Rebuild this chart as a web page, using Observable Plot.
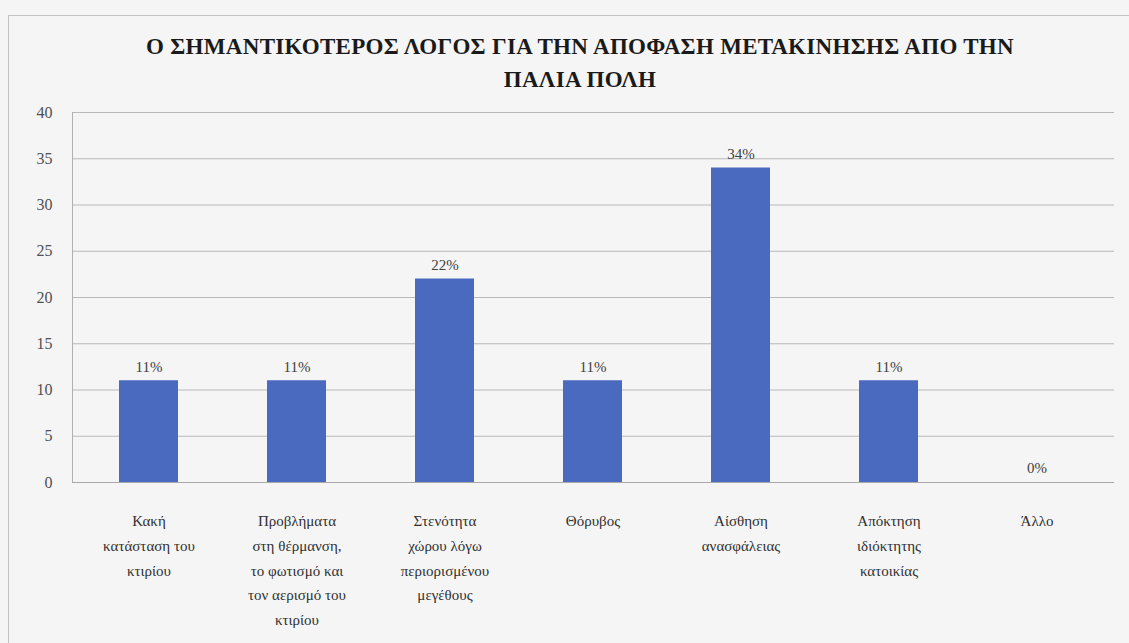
<!DOCTYPE html>
<html>
<head>
<meta charset="utf-8">
<script src="https://cdn.jsdelivr.net/npm/d3@7"></script>
<script src="https://cdn.jsdelivr.net/npm/@observablehq/plot@0.6"></script>
<style>
  html, body { margin: 0; padding: 0; background: #f5f5f5; }
  #wrap { position: relative; width: 1129px; height: 643px; overflow: hidden; background: #f5f5f5; }
  #frame { position: absolute; left: 8px; top: 15px; width: 1130px; height: 640px;
           border-left: 1px solid #c4c4c4; border-top: 1px solid #c4c4c4; }
  #title { position: absolute; left: 0; top: 30px; width: 1160px; text-align: center;
           font-family: "Liberation Serif", "DejaVu Serif", "Times New Roman", serif; font-weight: bold; font-size: 23px;
           line-height: 33px; color: #1a1a1a; letter-spacing: 0.3px; }
  #chart { position: absolute; left: 0; top: 100px; }
</style>
</head>
<body>
<div id="wrap">
  <div id="frame"></div>
  <div id="title">Ο ΣΗΜΑΝΤΙΚΟΤΕΡΟΣ ΛΟΓΟΣ ΓΙΑ ΤΗΝ ΑΠΟΦΑΣΗ ΜΕΤΑΚΙΝΗΣΗΣ ΑΠΟ ΤΗΝ<br>ΠΑΛΙΑ ΠΟΛΗ</div>
  <div id="chart"></div>
</div>
<script>
const categories = [
  "Κακή\nκατάσταση του\nκτιρίου",
  "Προβλήματα\nστη θέρμανση,\nτο φωτισμό και\nτον αερισμό του\nκτιρίου",
  "Στενότητα\nχώρου λόγω\nπεριορισμένου\nμεγέθους",
  "Θόρυβος",
  "Αίσθηση\nανασφάλειας",
  "Απόκτηση\nιδιόκτητης\nκατοικίας",
  "Άλλο"
];
const values = [11, 11, 22, 11, 34, 11, 0];
const valueLabels = ["11%", "11%", "22%", "11%", "34%", "11%", "0%"];
const yTicks = [0, 5, 10, 15, 20, 25, 30, 35, 40];

const data = categories.map((c, i) => ({category: c, value: values[i], label: valueLabels[i]}));

const serif = "'Liberation Serif', 'DejaVu Serif', 'Times New Roman', serif";

const chart = Plot.plot({
  width: 1129,
  height: 543,
  marginLeft: 72,
  marginRight: 15,
  marginTop: 12,
  marginBottom: 161,
  style: {background: "transparent", fontFamily: serif, fontSize: "15px", color: "#404040"},
  x: {domain: categories, paddingInner: 0.6, paddingOuter: 0.3, label: null},
  y: {domain: [0, 40], label: null},
  marks: [
    Plot.gridY(yTicks.filter(d => d > 0), {stroke: "#b9b9b9", strokeOpacity: 1}),
    Plot.axisY({ticks: yTicks, tickSize: 0, tickPadding: 20, fontSize: 16, label: null, fill: "#505050"}),
    Plot.frame({anchor: "left", stroke: "#b0b0b0"}),
    Plot.barY(data, {x: "category", y: "value", fill: "#4a6ac0"}),
    Plot.ruleY([0], {stroke: "#a8a8a8"}),
    Plot.text(data, {x: "category", y: "value", text: "label", dy: -14, fontSize: 15, fill: "#404040"}),
    Plot.axisX({tickSize: 0, tickPadding: 26, fontSize: 15, lineHeight: 1.65, label: null, fill: "#303030"})
  ]
});
document.getElementById("chart").appendChild(chart);
</script>
</body>
</html>
